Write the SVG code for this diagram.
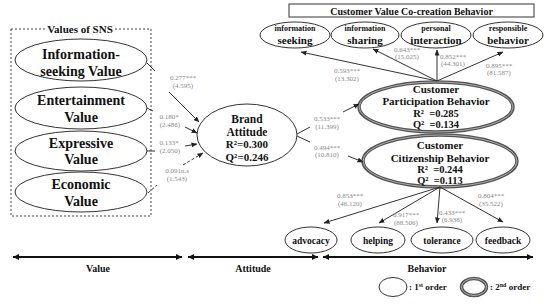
<svg xmlns="http://www.w3.org/2000/svg" width="550" height="304" viewBox="0 0 550 304">
<style>
.n{fill:#fff;stroke:#333;stroke-width:1}
.t{font-family:"Liberation Serif",serif;font-weight:bold;fill:#111;text-anchor:middle}
.ts{font-family:"Liberation Serif",serif;font-weight:bold;fill:#111;text-anchor:start}
.lb{font-family:"Liberation Serif",serif;font-size:7px;fill:#888;text-anchor:middle}
.c{stroke:#333;stroke-width:1;fill:none}
.ax{stroke:#111;stroke-width:2;fill:none}
.o2{fill:#fff;stroke:#555;stroke-width:3.5}
.o2i{fill:none;stroke:#aaa;stroke-width:1}
</style>
<defs>
<marker id="ah" markerUnits="userSpaceOnUse" markerWidth="6" markerHeight="6" refX="5.5" refY="2.5" orient="auto"><path d="M0,0 L6,2.5 L0,5 z" fill="#222"/></marker>
<marker id="axe" markerUnits="userSpaceOnUse" markerWidth="8" markerHeight="8" refX="6" refY="3" orient="auto"><path d="M0,0 L6,3 L0,6 z" fill="#111"/></marker>
<marker id="axs" markerUnits="userSpaceOnUse" markerWidth="8" markerHeight="8" refX="0" refY="3" orient="auto"><path d="M6,0 L0,3 L6,6 z" fill="#111"/></marker>
</defs>
<rect width="550" height="304" fill="#fff"/>

<g id="sns-box">
<rect x="11" y="29" width="140" height="187" fill="none" stroke="#444" stroke-width="1" stroke-dasharray="2,2"/>
<rect x="47" y="23" width="66" height="12" fill="#fff"/>
<text class="t" x="80" y="33" font-size="11">Values of SNS</text>
</g>

<g id="info-seeking-value">
<ellipse class="n" cx="81" cy="60" rx="66" ry="21"/>
<text class="t" x="81" y="59" font-size="14">Information-</text>
<text class="t" x="81" y="76" font-size="14">seeking Value</text>
</g>
<g id="entertainment-value">
<ellipse class="n" cx="81" cy="108" rx="66" ry="21"/>
<text class="t" x="81" y="105" font-size="14">Entertainment</text>
<text class="t" x="81" y="122" font-size="14">Value</text>
</g>
<g id="expressive-value">
<ellipse class="n" cx="81" cy="151" rx="66" ry="20"/>
<text class="t" x="81" y="148" font-size="14">Expressive</text>
<text class="t" x="81" y="164" font-size="14">Value</text>
</g>
<g id="economic-value">
<ellipse class="n" cx="81" cy="192" rx="66" ry="20"/>
<text class="t" x="81" y="189" font-size="14">Economic</text>
<text class="t" x="81" y="206" font-size="14">Value</text>
</g>

<g id="brand-attitude">
<ellipse class="n" cx="247" cy="135" rx="50" ry="31"/>
<text class="t" x="247" y="123" font-size="11.5">Brand</text>
<text class="t" x="247" y="136" font-size="11.5">Attitude</text>
<text class="t" x="247" y="148" font-size="11">R²=0.300</text>
<text class="t" x="247" y="161" font-size="11">Q²=0.246</text>
</g>

<g id="cvcb-title">
<rect x="289" y="4" width="245" height="13" fill="#fff" stroke="#333" stroke-width="1"/>
<text class="t" x="411.5" y="14.5" font-size="10">Customer Value Co-creation Behavior</text>
</g>

<g id="information-seeking">
<ellipse class="n" cx="295" cy="35" rx="35" ry="13"/>
<text class="t" x="295" y="31" font-size="8">information</text>
<text class="t" x="295" y="44" font-size="11">seeking</text>
</g>
<g id="information-sharing">
<ellipse class="n" cx="365" cy="35" rx="34" ry="13"/>
<text class="t" x="365" y="31" font-size="8">information</text>
<text class="t" x="365" y="44" font-size="11">sharing</text>
</g>
<g id="personal-interaction">
<ellipse class="n" cx="436" cy="35" rx="35" ry="13"/>
<text class="t" x="436" y="31" font-size="8">personal</text>
<text class="t" x="436" y="44" font-size="11">interaction</text>
</g>
<g id="responsible-behavior">
<ellipse class="n" cx="508" cy="35" rx="35" ry="13"/>
<text class="t" x="508" y="31" font-size="8">responsible</text>
<text class="t" x="508" y="44" font-size="11">behavior</text>
</g>

<g id="customer-participation-behavior">
<ellipse class="o2" cx="436" cy="107" rx="77" ry="25"/>
<ellipse class="o2i" cx="436" cy="107" rx="77" ry="25"/>
<text class="t" x="436" y="93" font-size="11">Customer</text>
<text class="t" x="436" y="105" font-size="11">Participation Behavior</text>
<text class="t" x="436" y="116.5" font-size="10.5" xml:space="preserve">R²  =0.285</text>
<text class="t" x="436" y="127.5" font-size="10.5" xml:space="preserve">Q²  =0.134</text>
</g>

<g id="customer-citizenship-behavior">
<ellipse class="o2" cx="440" cy="161" rx="77" ry="26"/>
<ellipse class="o2i" cx="440" cy="161" rx="77" ry="26"/>
<text class="t" x="440" y="149" font-size="11">Customer</text>
<text class="t" x="440" y="161.5" font-size="11">Citizenship Behavior</text>
<text class="t" x="440" y="172.5" font-size="10.5" xml:space="preserve">R²  =0.244</text>
<text class="t" x="440" y="183.5" font-size="10.5" xml:space="preserve">Q²  =0.113</text>
</g>

<g id="advocacy">
<ellipse class="n" cx="311" cy="240" rx="26" ry="13"/>
<text class="t" x="311" y="243.5" font-size="9.5">advocacy</text>
</g>
<g id="helping">
<ellipse class="n" cx="378" cy="240" rx="27" ry="13"/>
<text class="t" x="378" y="243.5" font-size="9.5">helping</text>
</g>
<g id="tolerance">
<ellipse class="n" cx="442" cy="240" rx="31" ry="13"/>
<text class="t" x="442" y="243.5" font-size="9.5">tolerance</text>
</g>
<g id="feedback">
<ellipse class="n" cx="503" cy="240" rx="27" ry="13"/>
<text class="t" x="503" y="243.5" font-size="9.5">feedback</text>
</g>

<g id="connectors">
<path class="c" d="M147,63 L155,71"/>
<path class="c" d="M169,92 L199,122" marker-end="url(#ah)"/>
<path class="c" d="M147,108 L153,111"/>
<path class="c" d="M185,127 L197,133" marker-end="url(#ah)"/>
<path class="c" d="M147,151 L155,151"/>
<path class="c" d="M185,146 L197,144" marker-end="url(#ah)"/>
<path class="c" d="M148,193 L157,185" stroke-dasharray="3,2"/>
<path class="c" d="M183,165 L203,153" stroke-dasharray="3,2" marker-end="url(#ah)"/>

<path class="c" d="M297,134 L310,127"/>
<path class="c" d="M297,136 L310,142"/>
<path class="c" d="M343,112 L359,104" marker-end="url(#ah)"/>
<path class="c" d="M348,156 L363,162" marker-end="url(#ah)"/>

<path class="c" d="M437,81 L301,52" marker-end="url(#ah)"/>
<path class="c" d="M437,81 L373,49" marker-end="url(#ah)"/>
<path class="c" d="M437,81 L437,50" marker-end="url(#ah)"/>
<path class="c" d="M437,81 L503,52" marker-end="url(#ah)"/>

<path class="c" d="M440,187 L324,223" marker-end="url(#ah)"/>
<path class="c" d="M440,187 L379,223" marker-end="url(#ah)"/>
<path class="c" d="M440,187 L437,223" marker-end="url(#ah)"/>
<path class="c" d="M440,187 L503,222" marker-end="url(#ah)"/>

<path class="ax" d="M13,257 L182,257" marker-start="url(#axs)" marker-end="url(#axe)"/>
<path class="ax" d="M188,257 L318,257" marker-start="url(#axs)" marker-end="url(#axe)"/>
<path class="ax" d="M323,257 L533,257" marker-start="url(#axs)" marker-end="url(#axe)"/>
</g>

<g id="path-labels">
<text class="lb" x="183" y="80">0.277***</text>
<text class="lb" x="183" y="88">(4.595)</text>
<text class="lb" x="169" y="119">0.180*</text>
<text class="lb" x="170" y="127">(2.486)</text>
<text class="lb" x="169" y="145">0.133*</text>
<text class="lb" x="170" y="153">(2.050)</text>
<text class="lb" x="177" y="173">0.091n.s</text>
<text class="lb" x="177" y="181">(1.543)</text>
<text class="lb" x="327" y="121">0.533***</text>
<text class="lb" x="327" y="129">(11.399)</text>
<text class="lb" x="327" y="150">0.494***</text>
<text class="lb" x="327" y="157">(10.810)</text>
<text class="lb" x="347" y="73">0.593***</text>
<text class="lb" x="347" y="81">(13.302)</text>
<text class="lb" x="407" y="52">0.643***</text>
<text class="lb" x="407" y="59">(15.025)</text>
<text class="lb" x="453" y="59">0.852***</text>
<text class="lb" x="453" y="66">(44.301)</text>
<text class="lb" x="499" y="68">0.895***</text>
<text class="lb" x="499" y="75">(81.587)</text>
<text class="lb" x="350" y="198">0.853***</text>
<text class="lb" x="350" y="206">(46.120)</text>
<text class="lb" x="406" y="217">0.917***</text>
<text class="lb" x="406" y="225">(88.506)</text>
<text class="lb" x="452" y="215">0.433***</text>
<text class="lb" x="452" y="222">(6.938)</text>
<text class="lb" x="491" y="198">0.804***</text>
<text class="lb" x="491" y="206">(35.522)</text>
</g>

<g id="axis-labels">
<text class="t" x="98" y="271.5" font-size="10">Value</text>
<text class="t" x="253" y="271.5" font-size="10">Attitude</text>
<text class="t" x="427" y="271.5" font-size="10">Behavior</text>
</g>

<g id="legend">
<ellipse class="n" cx="393" cy="287" rx="14" ry="9.5"/>
<text class="ts" x="409" y="290" font-size="9">: 1<tspan font-size="6" dy="-3">st</tspan><tspan dy="3"> order</tspan></text>
<ellipse class="o2" cx="474" cy="287" rx="12.5" ry="8.5" stroke-width="3"/>
<ellipse class="o2i" cx="474" cy="287" rx="12.5" ry="8.5"/>
<text class="ts" x="490" y="290" font-size="9">: 2<tspan font-size="6" dy="-3">nd</tspan><tspan dy="3"> order</tspan></text>
</g>
</svg>
